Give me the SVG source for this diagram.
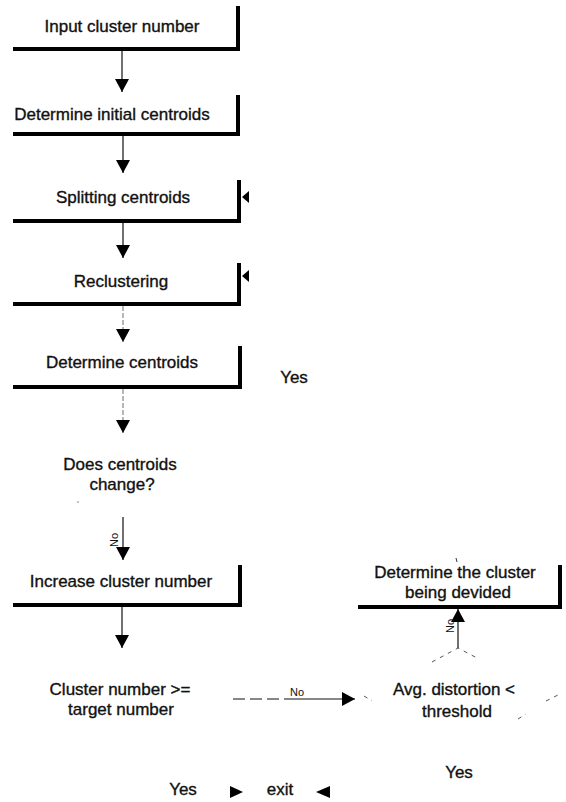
<svg xmlns="http://www.w3.org/2000/svg" width="566" height="802" viewBox="0 0 566 802">
<style>
  .t { font-family: "Liberation Sans", Arial, sans-serif; font-size: 17px; fill: #111; stroke: #111; stroke-width: 0.35; text-anchor: middle; }
  .s { font-family: "Liberation Sans", Arial, sans-serif; font-size: 11px; fill: #111; text-anchor: middle; }
  .edge { stroke: #000; stroke-width: 4; fill: none; stroke-linecap: square; }
  .c { stroke: #111; stroke-width: 1.2; fill: none; }
  .g { stroke: #888; stroke-width: 1.2; fill: none; stroke-dasharray: 5 2; }
  .d { stroke: #555; stroke-width: 1; fill: none; stroke-dasharray: 4 5; }
  .h { fill: #000; }
</style>
<defs>
  <marker id="ah" markerWidth="13" markerHeight="14" refX="13" refY="7" orient="auto" markerUnits="userSpaceOnUse">
    <path d="M0,0 L13,7 L0,14 Z" fill="#000"/>
  </marker>
</defs>
<rect width="566" height="802" fill="#fff"/>

<g id="n1">
  <path class="edge" d="M15,49 H238 M238,49 V8"/>
  <text class="t" x="122" y="32">Input cluster number</text>
</g>
<g id="n2">
  <path class="edge" d="M15,134 H238 M238,134 V97"/>
  <text class="t" x="112" y="120">Determine initial centroids</text>
</g>
<g id="n3">
  <path class="edge" d="M15,221 H239 M239,221 V182"/>
  <text class="t" x="123" y="203">Splitting centroids</text>
</g>
<g id="n4">
  <path class="edge" d="M15,304 H239 M239,304 V265"/>
  <text class="t" x="121" y="287">Reclustering</text>
</g>
<g id="n5">
  <path class="edge" d="M15,387 H240 M240,387 V348"/>
  <text class="t" x="122" y="368">Determine centroids</text>
</g>
<g id="n6">
  <text class="t" x="120" y="470">Does centroids</text>
  <text class="t" x="122" y="490">change?</text>
  <circle cx="78" cy="502" r="0.7" fill="#555"/>
</g>
<g id="n7">
  <path class="edge" d="M15,605 H240 M240,605 V567"/>
  <text class="t" x="121" y="587">Increase cluster number</text>
</g>
<g id="n8">
  <text class="t" x="120" y="695">Cluster number &gt;=</text>
  <text class="t" x="121" y="715">target number</text>
</g>
<g id="n9">
  <path class="d" d="M432,662 L458,648 L477,658 M364,696 L372,701 M518,719 L526,714 M546,701 L562,693"/>
  <text class="t" x="454" y="695">Avg. distortion &lt;</text>
  <text class="t" x="457" y="717">threshold</text>
</g>
<g id="n10">
  <path class="edge" d="M360,607 H560 M560,607 V567"/>
  <text class="t" x="455" y="578">Determine the cluster</text>
  <text class="t" x="458" y="598">being devided</text>
  <path d="M456,558 L457,562" stroke="#333" stroke-width="1"/>
</g>
<g id="n11">
  <text class="t" x="280" y="795">exit</text>
</g>

<g id="connectors">
  <line class="c" x1="122" y1="51" x2="122" y2="92" marker-end="url(#ah)"/>
  <line class="c" x1="123" y1="136" x2="123" y2="173" marker-end="url(#ah)"/>
  <line class="c" x1="123" y1="223" x2="123" y2="258" marker-end="url(#ah)"/>
  <line class="g" x1="123" y1="306" x2="123" y2="342" marker-end="url(#ah)"/>
  <line class="g" x1="123" y1="389" x2="123" y2="433" marker-end="url(#ah)"/>
  <line class="c" x1="123" y1="517" x2="123" y2="560" marker-end="url(#ah)"/>
  <text class="s" transform="translate(118,540) rotate(-90)">No</text>
  <line class="c" x1="122" y1="607" x2="122" y2="648" marker-end="url(#ah)"/>
  <path d="M233,699 H285" stroke="#111" stroke-width="1.2" stroke-dasharray="12 5"/>
  <line class="c" x1="285" y1="699" x2="355" y2="699" marker-end="url(#ah)"/>
  <text class="s" x="297" y="696">No</text>
  <line class="c" x1="458" y1="648" x2="458" y2="609" marker-end="url(#ah)"/>
  <text class="s" transform="translate(454,626) rotate(-90)">No</text>
  <polygon class="h" points="242,197 249,191 249,203"/>
  <polygon class="h" points="242,276 249,270 249,282"/>
  <text class="t" x="294" y="383">Yes</text>
  <text class="t" x="459" y="778">Yes</text>
  <text class="t" x="183" y="795">Yes</text>
  <polygon class="h" points="230,786 243,792 230,798"/>
  <polygon class="h" points="330,786 316,792 330,798"/>
</g>
</svg>
